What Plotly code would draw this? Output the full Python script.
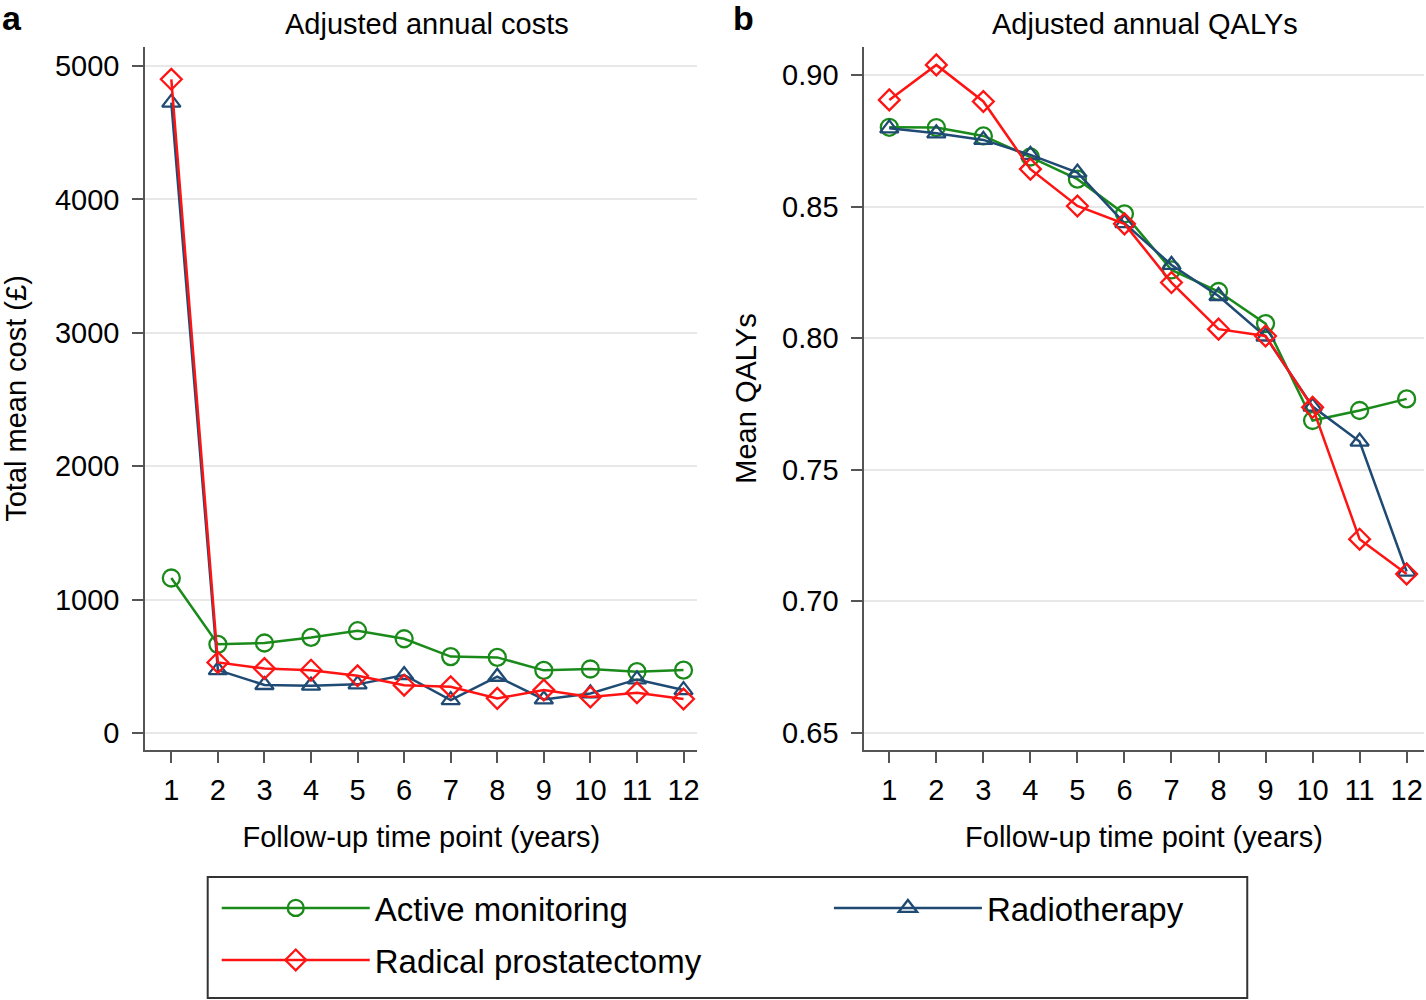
import plotly.graph_objects as go

years = [1, 2, 3, 4, 5, 6, 7, 8, 9, 10, 11, 12]

cost_am = [1162, 665, 675, 717, 767, 707, 573, 567, 470, 480, 460, 472]
cost_rp = [4900, 529, 484, 471, 429, 359, 347, 260, 322, 270, 302, 255]
cost_rt = [4725, 472, 360, 355, 365, 435, 247, 422, 252, 297, 402, 322]

qaly_am = [0.8801, 0.8800, 0.8768, 0.8688, 0.8604, 0.8472, 0.8259, 0.8177, 0.8055, 0.7687, 0.7725, 0.7769]
qaly_rp = [0.8905, 0.9038, 0.8899, 0.8642, 0.8502, 0.8434, 0.8211, 0.8034, 0.8008, 0.7737, 0.7236, 0.7104]
qaly_rt = [0.8797, 0.8778, 0.8753, 0.8696, 0.8629, 0.8437, 0.8278, 0.8160, 0.8006, 0.7740, 0.7607, 0.7113]

cost_ticks = [0, 1000, 2000, 3000, 4000, 5000]
qaly_ticks = [0.65, 0.70, 0.75, 0.80, 0.85, 0.90]
qaly_tick_labels = ["0.65", "0.70", "0.75", "0.80", "0.85", "0.90"]

GREEN = "#1a8a1a"
RED = "#ff1414"
BLUE = "#1f4a73"
FONT = "Liberation Sans, Arial, Helvetica, sans-serif"

series = [
    ("Active monitoring", GREEN, "circle-open", 17, cost_am, qaly_am, "legend"),
    ("Radiotherapy", BLUE, "triangle-up-open", 16, cost_rt, qaly_rt, "legend2"),
    ("Radical prostatectomy", RED, "diamond-open", 16, cost_rp, qaly_rp, "legend3"),
]

fig = go.Figure()
for name, color, sym, size, c, q, leg in series:
    mk = dict(symbol=sym, size=size, color=color, line=dict(color=color, width=2.3))
    fig.add_trace(go.Scatter(x=years, y=c, mode="lines+markers", name=name,
                             line=dict(color=color, width=2.5), marker=mk,
                             xaxis="x", yaxis="y", showlegend=True, legend=leg))
    fig.add_trace(go.Scatter(x=years, y=q, mode="lines+markers", name=name,
                             line=dict(color=color, width=2.5), marker=mk,
                             xaxis="x2", yaxis="y2", showlegend=False, legend=leg))

axis_common = dict(showline=True, linecolor="#555555", linewidth=2,
                   ticks="outside", ticklen=11, tickwidth=2, tickcolor="#555555",
                   tickfont=dict(size=29, color="black", family=FONT),
                   zeroline=False, mirror=False)

legend_common = dict(orientation="h", xanchor="left", yanchor="middle",
                     borderwidth=0, bgcolor="rgba(0,0,0,0)",
                     font=dict(size=33, family=FONT, color="black"),
                     itemwidth=148)

fig.update_layout(
    width=1426, height=1000,
    margin=dict(l=0, r=0, t=0, b=0),
    paper_bgcolor="white", plot_bgcolor="white",
    font=dict(family=FONT, color="black"),
    xaxis=dict(domain=[0.1020, 0.4898], range=[0.44, 12.3], tickvals=years,
               showgrid=False, anchor="y", ticklabelstandoff=2,
               title=dict(text="Follow-up time point (years)", font=dict(size=29), standoff=22),
               **axis_common),
    yaxis=dict(domain=[0.25, 0.953], range=[-127, 5142], tickvals=cost_ticks,
               showgrid=True, gridcolor="#e8e8e8", gridwidth=2, anchor="x",
               ticklabelstandoff=7,
               title=dict(text="Total mean cost (£)", font=dict(size=29), standoff=22),
               **axis_common),
    xaxis2=dict(domain=[0.6070, 0.9997], range=[0.47, 12.36], tickvals=years,
                showgrid=False, anchor="y2", ticklabelstandoff=2,
                title=dict(text="Follow-up time point (years)", font=dict(size=29), standoff=22),
                **axis_common),
    yaxis2=dict(domain=[0.25, 0.953], range=[0.6435, 0.9106], tickvals=qaly_ticks,
                ticktext=qaly_tick_labels,
                showgrid=True, gridcolor="#e8e8e8", gridwidth=2, anchor="x2",
                ticklabelstandoff=7,
                title=dict(text="Mean QALYs", font=dict(size=29), standoff=17),
                **axis_common),
    legend=dict(x=0.1522, y=0.092, **legend_common),
    legend2=dict(x=0.5821, y=0.092, **legend_common),
    legend3=dict(x=0.1522, y=0.040, **legend_common),
    showlegend=True,
)

# legend frame
fig.add_shape(type="rect", xref="paper", yref="paper", x0=0.14586, x1=0.87588,
              y0=0.002, y1=0.123, line=dict(color="#333333", width=2), fillcolor="rgba(0,0,0,0)")

fig.add_annotation(text="Adjusted annual costs", x=0.300, y=0.976, xref="paper", yref="paper",
                   showarrow=False, font=dict(size=29), xanchor="center", yanchor="middle")
fig.add_annotation(text="Adjusted annual QALYs", x=0.804, y=0.976, xref="paper", yref="paper",
                   showarrow=False, font=dict(size=29), xanchor="center", yanchor="middle")
fig.add_annotation(text="<b>a</b>", x=0.0, y=0.982, xref="paper", yref="paper",
                   showarrow=False, font=dict(size=34), xanchor="left", yanchor="middle")
fig.add_annotation(text="<b>b</b>", x=0.513, y=0.982, xref="paper", yref="paper",
                   showarrow=False, font=dict(size=34), xanchor="left", yanchor="middle")

fig.write_html("out.html", config={"displayModeBar": False},
               post_script="document.body.style.margin='0px';")
